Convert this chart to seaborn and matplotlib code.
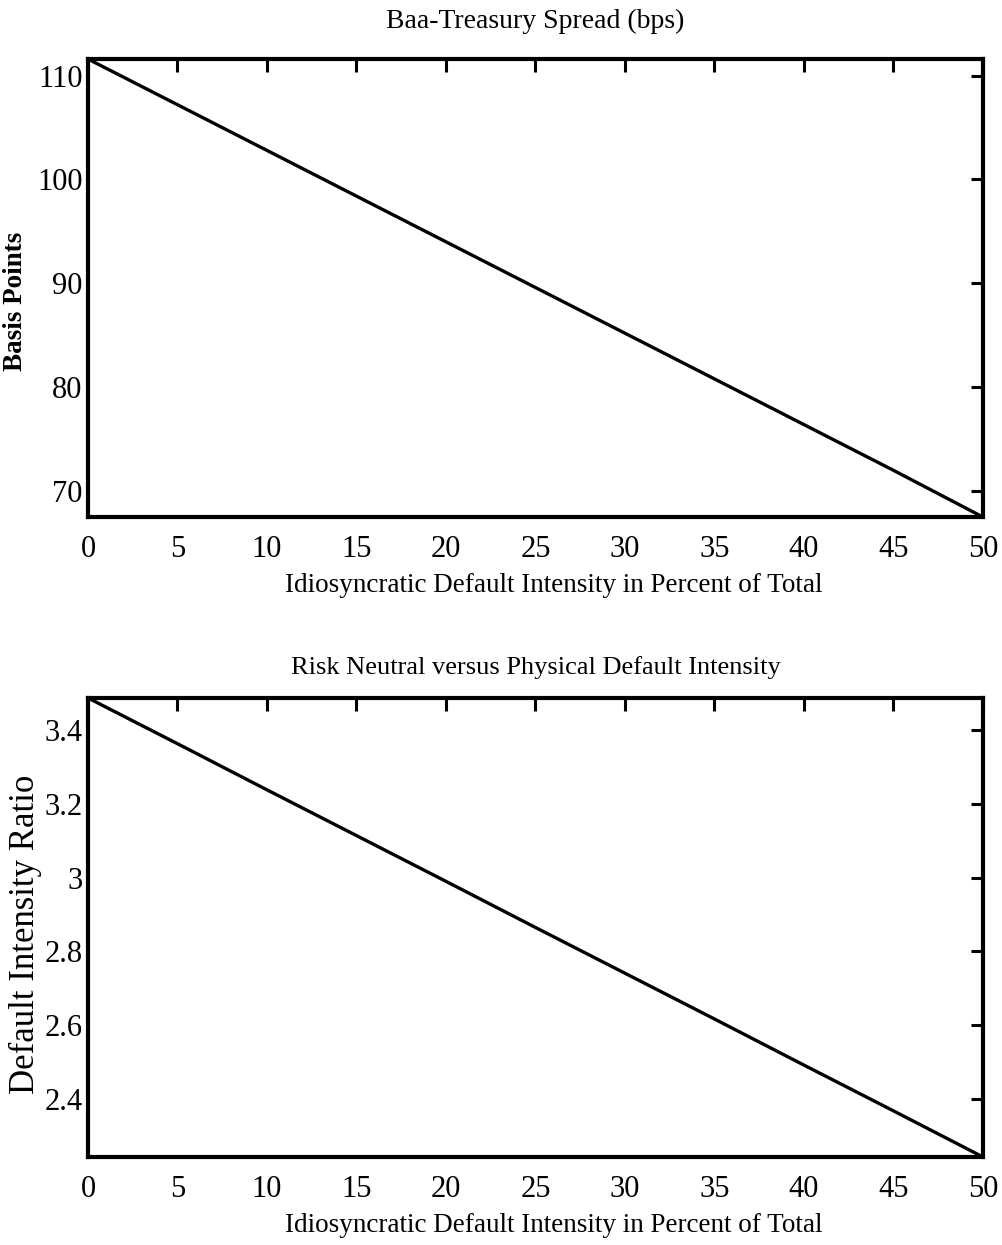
import numpy as np
import pandas as pd
import seaborn as sns
import matplotlib.pyplot as plt

# Idiosyncratic share of default intensity (percent of total)
idio_pct = [0, 5, 10, 15, 20, 25, 30, 35, 40, 45, 50]
# Baa-Treasury spread in basis points
spread_bps = [111.6, 107.2, 102.8, 98.4, 94.0, 89.6, 85.2, 80.8, 76.4, 72.0, 67.5]
# Risk neutral / physical default intensity ratio
intensity_ratio = [3.487, 3.363, 3.238, 3.114, 2.990, 2.865, 2.741, 2.617, 2.492, 2.368, 2.243]

x_ticks = [0, 5, 10, 15, 20, 25, 30, 35, 40, 45, 50]
y1_ticks = [70, 80, 90, 100, 110]
y2_ticks = [2.4, 2.6, 2.8, 3.0, 3.2, 3.4]
y2_labels = ['2.4', '2.6', '2.8', '3', '3.2', '3.4']

df = pd.DataFrame({'idio': idio_pct, 'spread': spread_bps, 'ratio': intensity_ratio})

sns.set_style("white")
plt.rcParams['font.family'] = ['Liberation Serif', 'DejaVu Serif']
plt.rcParams['text.color'] = 'black'
plt.rcParams['axes.labelcolor'] = 'black'

fig = plt.figure(figsize=(10.03, 12.45), dpi=100)
ax1 = fig.add_axes([0.0877, 0.5847, 0.8923, 0.3679])
ax2 = fig.add_axes([0.0877, 0.0707, 0.8923, 0.3687])


def style_axis(ax):
    for s in ax.spines.values():
        s.set_linewidth(3)
        s.set_color('black')
    ax.tick_params(direction='in', length=9, width=2.2, top=True, right=True,
                   labelsize=22, colors='black')
    ax.tick_params(axis='x', pad=13)
    ax.tick_params(axis='y', pad=4)
    ax.set_xlim(0, 50)
    ax.set_xticks(x_ticks)
    ax.set_xlabel('Idiosyncratic Default Intensity in Percent of Total', fontsize=19.5)
    ax.xaxis.set_label_coords(0.52, -0.122)


# 1. Spread
sns.lineplot(data=df, x='idio', y='spread', ax=ax1, color='black', linewidth=2.4, clip_on=False)
style_axis(ax1)
ax1.set_ylim(67.5, 111.6)
ax1.set_yticks(y1_ticks)
ax1.set_ylabel('Basis Points', fontsize=19.5, fontweight='bold')
ax1.yaxis.set_label_coords(-0.067, 0.47)
ax1.set_title('Baa-Treasury Spread (bps)', fontsize=20, pad=22)

# 2. Intensity ratio
sns.lineplot(data=df, x='idio', y='ratio', ax=ax2, color='black', linewidth=2.4, clip_on=False)
style_axis(ax2)
ax2.set_ylim(2.243, 3.487)
ax2.set_yticks(y2_ticks)
ax2.set_yticklabels(y2_labels)
ax2.set_ylabel('Default Intensity Ratio', fontsize=25)
ax2.yaxis.set_label_coords(-0.051, 0.484)
ax2.set_title('Risk Neutral versus Physical Default Intensity', fontsize=19, pad=17)

fig.savefig('out.png', dpi=100)
